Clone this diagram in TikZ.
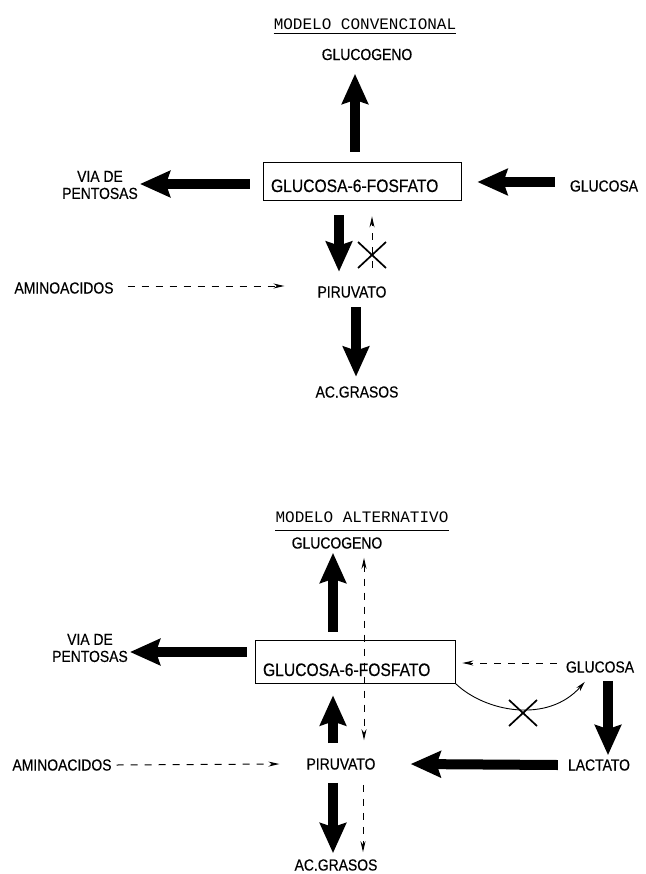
\documentclass[tikz,border=0pt]{standalone}
\usepackage{fontspec}
\setmainfont[FakeStretch=0.87,FakeBold=0.4]{Liberation Sans}
\newfontfamily\titlefont{Liberation Mono}
\usetikzlibrary{arrows.meta}
\begin{document}
\begin{tikzpicture}[x=1pt,y=-1pt,
  lbl/.style={inner sep=2pt, font=\fontsize{16}{17}\selectfont, align=center},
  ttl/.style={inner sep=0pt, font=\titlefont\fontsize{16}{18}\selectfont},
  boxn/.style={draw, line width=0.8pt, align=left, inner xsep=8pt, inner ysep=3pt, font=\fontsize{18}{20}\selectfont},
  big/.style={line width=10pt, -{Stealth[length=30pt,width=26pt,inset=4pt]}},
  dsh/.style={line width=1pt, dash pattern=on 7pt off 7pt, -{Stealth[length=11pt,width=5pt]}},
  crs/.style={line width=1.7pt},
  uline/.style={line width=0.9pt}]
\useasboundingbox (0,0) rectangle (645,874);

% ---------- top: modelo convencional ----------
\node[ttl] (title1) at (365,24) {MODELO CONVENCIONAL};
\draw[uline] ([yshift=-4pt]title1.south west) -- ([yshift=-4pt]title1.south east);
\node[lbl] (glucogeno1) at (367,54.5) {GLUCOGENO};
\node[boxn, text width=182pt, text height=27pt, text depth=5pt] (box1) at (362,181) {GLUCOSA-6-FOSFATO};
\node[lbl] (via1) at (100,185) {VIA DE\\PENTOSAS};
\node[lbl] (glucosa1) at (604,186) {GLUCOSA};
\node[lbl] (piruvato1) at (352,292) {PIRUVATO};
\node[lbl] (acgrasos1) at (357,392) {AC.GRASOS};
\node[lbl] (amino1) at (64,288) {AMINOACIDOS};
\coordinate (x1) at (372,255);

\draw[big] ([xshift=-7pt,yshift=10pt]box1.north) -- ([xshift=-12pt,yshift=-11.5pt]glucogeno1.south);
\draw[big] ([xshift=-13pt,yshift=-3pt]box1.west) -- ([yshift=1pt]via1.east);
\draw[big] ([xshift=-13pt,yshift=4pt]glucosa1.west) -- ([xshift=16pt,yshift=-1pt]box1.east);
\draw[big] ([xshift=-23pt,yshift=-15pt]box1.south) -- ([xshift=-13pt,yshift=12.5pt]piruvato1.north);
\draw[big] ([xshift=4pt,yshift=-7.5pt]piruvato1.south) -- ([xshift=-1pt,yshift=7.5pt]acgrasos1.north);
\draw[dsh] ([xshift=20pt,yshift=16.5pt]piruvato1.north) -- ([xshift=10pt,yshift=-16pt]box1.south);
\draw[crs] ([shift={(-14pt,-13pt)}]x1) -- ([shift={(14pt,13pt)}]x1);
\draw[crs] ([shift={(-14pt,13pt)}]x1) -- ([shift={(14pt,-13pt)}]x1);
\draw[dsh] ([xshift=12pt,yshift=2pt]amino1.east) -- ([xshift=-31pt,yshift=6pt]piruvato1.west);

% ---------- bottom: modelo alternativo ----------
\node[ttl] (title2) at (362,517) {MODELO ALTERNATIVO};
\draw[uline] ([yshift=-8pt]title2.south west) -- ([yshift=-8pt]title2.south east);
\node[lbl] (glucogeno2) at (337,543) {GLUCOGENO};
\node[boxn, text width=184pt, text height=33pt, text depth=4pt] (box2) at (355,661.5) {GLUCOSA-6-FOSFATO};
\node[lbl] (via2) at (90,648) {VIA DE\\PENTOSAS};
\node[lbl] (glucosa2) at (600,667) {GLUCOSA};
\node[lbl] (piruvato2) at (341,764) {PIRUVATO};
\node[lbl] (lactato2) at (599,765) {LACTATO};
\node[lbl] (acgrasos2) at (336,865) {AC.GRASOS};
\node[lbl] (amino2) at (62,765) {AMINOACIDOS};
\coordinate (x2) at (523,713);

\draw[big] ([xshift=-22pt,yshift=8pt]box2.north) -- ([xshift=-4pt,yshift=-2pt]glucogeno2.south);
\draw[big] ([xshift=-8pt,yshift=9.5pt]box2.west) -- ([yshift=-4pt]via2.east);
\draw[big] ([xshift=8pt,yshift=-6pt]glucosa2.south) -- ([xshift=9pt,yshift=2pt]lactato2.north);
\draw[big] ([xshift=-8pt]lactato2.west) -- ([xshift=33pt]piruvato2.east);
\draw[big] ([xshift=-8pt,yshift=13pt]piruvato2.north) -- ([xshift=-22pt,yshift=-12pt]box2.south);
\draw[big] ([xshift=-8pt,yshift=-11pt]piruvato2.south) -- ([xshift=-3pt,yshift=4pt]acgrasos2.north);
\draw[dsh, {Stealth[length=11pt,width=5pt]}-{Stealth[length=11pt,width=5pt]}] ([xshift=27pt,yshift=-7pt]glucogeno2.south) -- ([xshift=23pt,yshift=16pt]piruvato2.north);
\draw[dsh] ([xshift=22pt,yshift=-13pt]piruvato2.south) -- ([xshift=27pt,yshift=5pt]acgrasos2.north);
\draw[dsh] ([xshift=-7pt,yshift=4pt]glucosa2.west) -- ([xshift=7pt,yshift=-1.5pt]box2.east);
\draw[dsh] ([xshift=3pt]amino2.east) -- ([xshift=-25pt]piruvato2.west);
\draw[line width=0.9pt, -{Stealth[length=10pt,width=5pt]}] (box2.south east) .. controls (485,712) and (548,724) .. ([xshift=21pt,yshift=-7pt]glucosa2.south west);
\draw[crs] ([shift={(-14pt,-13pt)}]x2) -- ([shift={(14pt,13pt)}]x2);
\draw[crs] ([shift={(-14pt,13pt)}]x2) -- ([shift={(14pt,-13pt)}]x2);
\end{tikzpicture}
\end{document}
